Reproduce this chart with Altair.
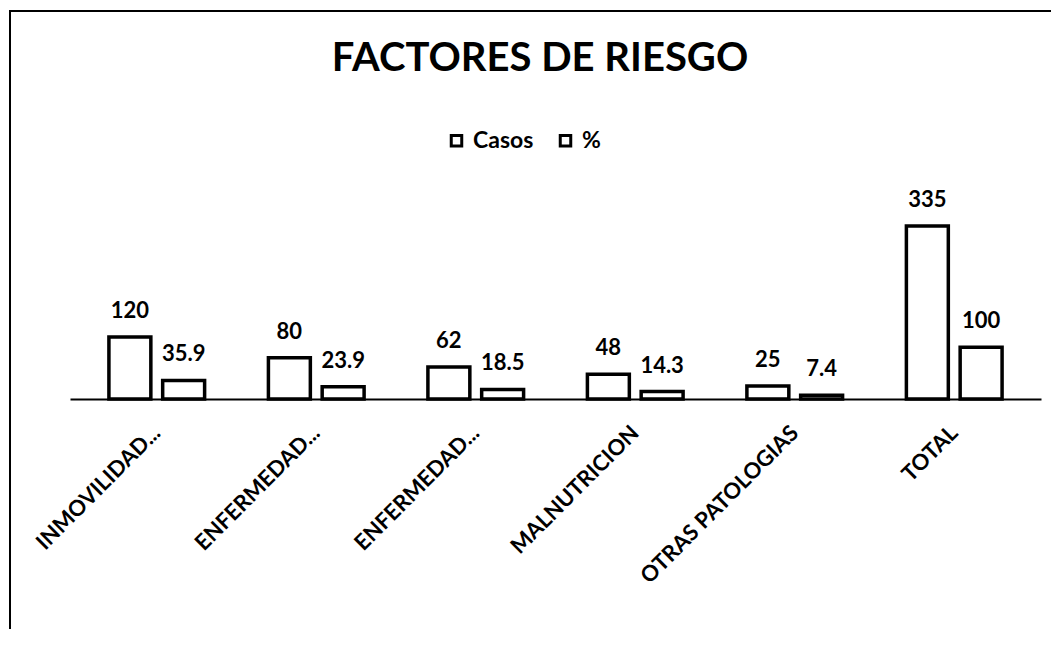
import json
import altair as alt
import pandas as pd

# ---- data ----
categories = ["INMOVILIDAD...", "ENFERMEDAD...", "ENFERMEDAD...", "MALNUTRICION", "OTRAS PATOLOGIAS", "TOTAL"]
casos = [120, 80, 62, 48, 25, 335]
porcentaje = [35.9, 23.9, 18.5, 14.3, 7.4, 100]
series = ["Casos", "%"]
title_text = "FACTORES DE RIESGO"

rows = []
for i in range(len(categories)):
    rows.append({"idx": i, "serie": series[0], "valor": casos[i]})
    rows.append({"idx": i, "serie": series[1], "valor": porcentaje[i]})
df = pd.DataFrame(rows)

W, H = 971, 229
FONT = "Lato"

label_expr = json.dumps(categories) + "[datum.value]"

x_enc = alt.X(
    "idx:O",
    title=None,
    scale=alt.Scale(paddingInner=0.4, paddingOuter=0.244),
    axis=alt.Axis(
        labelExpr=label_expr,
        labelAngle=-45,
        labelAlign="right",
        labelBaseline="middle",
        ticks=False,
        domainColor="black",
        domainWidth=2,
        labelFont=FONT,
        labelFontSize=22,
        labelFontWeight="bold",
        labelColor="black",
        labelPadding=30,
        labelLimit=400,
    ),
)
xoff_enc = alt.XOffset("serie:N", sort=series, scale=alt.Scale(domain=series, paddingInner=0.22))
y_enc = alt.Y("valor:Q", title=None, scale=alt.Scale(domain=[0, 443.5]), axis=None)

base = alt.Chart(df)

bars = base.mark_bar(stroke="black", strokeWidth=3.5).encode(
    x=x_enc,
    xOffset=xoff_enc,
    y=y_enc,
    color=alt.Color(
        "serie:N",
        sort=series,
        scale=alt.Scale(domain=series, range=["white", "white"]),
        legend=alt.Legend(
            orient="none",
            legendX=375,
            legendY=-41,
            direction="horizontal",
            title=None,
            symbolType="square",
            symbolSize=110,
            symbolStrokeColor="black",
            symbolStrokeWidth=3,
            symbolFillColor="white",
            labelFont=FONT,
            labelFontSize=23,
            labelFontWeight="bold",
            labelColor="black",
            columnPadding=20,
            labelOffset=5,
        ),
    ),
)

labels = base.mark_text(
    baseline="bottom", dy=-14, font=FONT, fontSize=22, fontWeight="bold", color="black"
).encode(
    x=x_enc,
    xOffset=xoff_enc,
    y=y_enc,
    text=alt.Text("valor:Q", format="~g"),
)

title = alt.Chart(alt.Data(values=[{"t": title_text}])).mark_text(
    font=FONT, fontSize=40, fontWeight="bold", color="black", baseline="middle", align="center"
).encode(x=alt.value(470), y=alt.value(-111), text="t:N")

frame_left = alt.Chart(alt.Data(values=[{"k": 1}])).mark_rule(color="black", strokeWidth=2).encode(
    x=alt.value(-60), y=alt.value(-159), y2=alt.value(459)
)
frame_top = alt.Chart(alt.Data(values=[{"k": 1}])).mark_rule(color="black", strokeWidth=2).encode(
    x=alt.value(-61), x2=alt.value(981), y=alt.value(-159)
)

chart = (
    alt.layer(frame_left, frame_top, title, bars, labels)
    .properties(
        width=W,
        height=H,
        background="white",
        padding={"left": 0, "top": 2, "right": 0, "bottom": 0},
    )
    .configure_view(stroke="transparent", strokeWidth=0)
)

chart.save("out.html", embed_options={"renderer": "svg", "actions": False})
